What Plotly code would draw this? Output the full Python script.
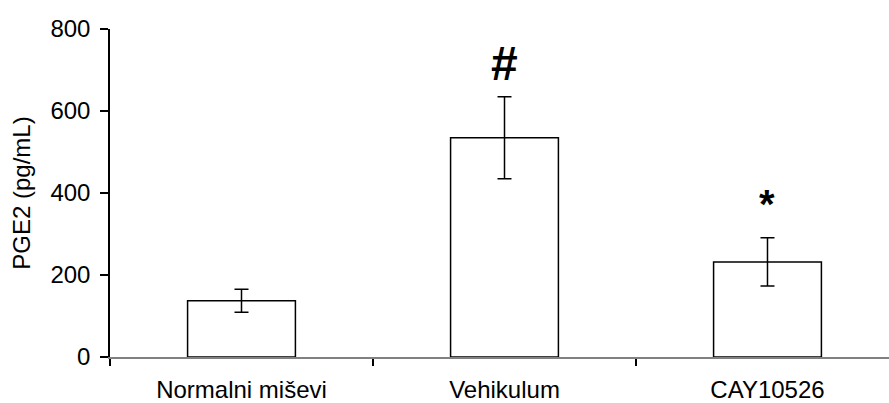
import plotly.graph_objects as go

categories = ["Normalni miševi", "Vehikulum", "CAY10526"]
values = [137, 535, 232]
errors = [28, 100, 59]
marks = ["", "#", "*"]
mark_y = [None, 716, 373]

FONT = "Liberation Sans, Arial, sans-serif"

fig = go.Figure()
fig.add_trace(go.Bar(
    x=categories, y=values, width=0.41,
    marker=dict(color="white", line=dict(color="black", width=1.5)),
    error_y=dict(type="data", array=errors, visible=True, color="black", thickness=1.5, width=7),
))

for c, m, yv in zip(categories, marks, mark_y):
    if m:
        fig.add_annotation(x=c, y=yv, text="<b>%s</b>" % m, showarrow=False,
                           font=dict(family=FONT, size=48 if m == "#" else 40, color="black"),
                           yanchor="middle")

fig.update_layout(
    width=889, height=403,
    margin=dict(l=110, r=0, t=29, b=46),
    plot_bgcolor="white", paper_bgcolor="white",
    showlegend=False,
    font=dict(family=FONT, size=24, color="black"),
    xaxis=dict(range=[-0.5, 2.462], showline=True, linecolor="#808080", linewidth=1.5,
               ticks="outside", tickson="boundaries", ticklen=7, tickcolor="black", tickwidth=1.5,
               showgrid=False, tickfont=dict(size=24), ticklabelstandoff=10),
    yaxis=dict(range=[0, 800], tickvals=[0, 200, 400, 600, 800], showline=True, linecolor="black",
               linewidth=1.5, ticks="outside", ticklen=8, tickcolor="black", tickwidth=1.5,
               showgrid=False, zeroline=False, tickfont=dict(size=24), ticklabelstandoff=5,
               title=dict(text="PGE2 (pg/mL)", font=dict(size=24), standoff=13)),
)
fig.write_html("out.html")
